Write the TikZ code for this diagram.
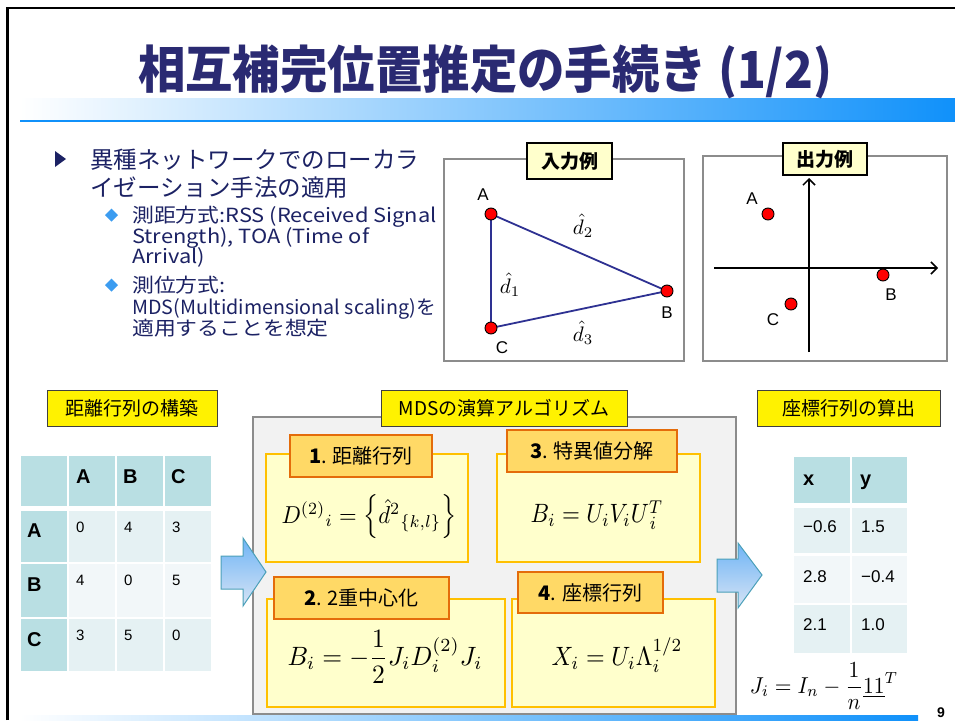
\documentclass[tikz,border=0pt]{standalone}
\usepackage{fontspec}
\setmainfont{Liberation Sans}
\newfontfamily\jp{Noto Sans CJK JP}
\usetikzlibrary{arrows.meta}
\definecolor{navy}{RGB}{42,42,114}
\definecolor{txtnavy}{RGB}{28,34,100}
\definecolor{barblue}{RGB}{16,145,250}
\definecolor{barmid}{RGB}{200,220,250}
\definecolor{diablue}{RGB}{60,156,240}
\definecolor{hdrcell}{RGB}{185,223,227}
\definecolor{bodyA}{RGB}{229,241,243}
\definecolor{bodyB}{RGB}{242,247,249}
\definecolor{graybox}{RGB}{242,242,242}
\definecolor{grayline}{RGB}{140,140,140}
\definecolor{stepfill}{RGB}{255,255,204}
\definecolor{stepline}{RGB}{255,192,0}
\definecolor{labfill}{RGB}{255,217,102}
\definecolor{labline}{RGB}{228,108,10}
\definecolor{trline}{RGB}{46,49,146}
\definecolor{arrtop}{RGB}{110,180,245}
\definecolor{arrbot}{RGB}{215,228,245}
\definecolor{arrline}{RGB}{75,160,185}
\tikzset{
  ylab/.style={draw=black!75, line width=1pt, fill=yellow, inner sep=0pt, font=\jp\fontsize{19}{21}\selectfont},
  exlab/.style={draw=black, line width=1.3pt, fill=stepfill, inner sep=0pt, font=\jp\bfseries\fontsize{19}{21}\selectfont},
  stepbox/.style={draw=stepline, line width=2.5pt, fill=stepfill, inner sep=0pt},
  steplab/.style={draw=labline, line width=2.5pt, fill=labfill, inner sep=0pt, font=\jp\fontsize{20}{22}\selectfont},
  frm/.style={inner sep=0pt, font=\fontsize{10}{12}\selectfont},
  pt/.style={circle, draw=black, line width=0.9pt, fill=red, minimum size=12pt, inner sep=0pt},
  ptlab/.style={inner sep=0pt, font=\fontsize{17}{19}\selectfont},
  dlab/.style={inner sep=0pt, font=\fontsize{10}{12}\selectfont},
  bul/.style={anchor=base west, inner sep=0pt, text=txtnavy, font=\jp\fontsize{23.5}{25}\selectfont},
  sbul/.style={anchor=base west, inner sep=0pt, text=txtnavy, font=\jp\fontsize{19.5}{21}\selectfont},
  thd/.style={anchor=base west, inner sep=0pt, font=\bfseries\fontsize{20}{22}\selectfont},
  tbd/.style={anchor=base west, inner sep=0pt, font=\fontsize{15}{17}\selectfont},
  rbd/.style={anchor=base west, inner sep=0pt, font=\fontsize{17}{19}\selectfont},
  blockarr/.style={draw=arrline, line width=1pt, top color=arrtop, bottom color=arrbot},
  axis/.style={line width=1.5pt, -{Straight Barb[length=6pt,width=12pt,line width=1.5pt]}}
}
\newcommand\wide[1]{\scalebox{1.12}[1]{#1}}
\newcommand\bigmath[2]{\scalebox{#1}[2.65]{$#2$}}
\begin{document}
\begin{tikzpicture}[x=1pt,y=-1pt]
\useasboundingbox (0,0) rectangle (955,720);
\fill[white] (0,0) rectangle (955,720);

% frame
\draw[line width=2.5pt] (7.5,720) -- (7.5,8) -- (955,8);

% title + bars
\shade[left color=white, middle color=barmid, right color=barblue] (20,98) rectangle (955,120);
\draw[barblue, line width=1.2pt] (20,121) -- (955,121);
\node[inner sep=0pt, text=navy] (title) at (485,72)
  {\scalebox{0.93}[1]{\jp\bfseries\fontsize{51}{53}\selectfont 相互補完位置推定の手続き (1/2)}};
\shade[left color=white, right color=barblue] (20,715) rectangle (918,720);
\node[inner sep=0pt, font=\bfseries\fontsize{14}{16}\selectfont] (pagenum) at (941,713) {9};

% bullets
\fill[txtnavy] (55,151) -- (66,159) -- (55,167) -- cycle;
\node[bul] (b1a) at (90,168) {異種ネットワークでのローカラ};
\node[bul] (b1b) at (90,196) {イゼーション手法の適用};
\fill[diablue] (105,215) -- (111.5,208.5) -- (118,215) -- (111.5,221.5) -- cycle;
\node[sbul] (s1a) at (132,222) {\wide{測距方式:RSS (Received Signal}};
\node[sbul] (s1b) at (132,243) {\wide{Strength), TOA (Time of}};
\node[sbul] (s1c) at (132,263) {\wide{Arrival)}};
\fill[diablue] (105,285) -- (111.5,278.5) -- (118,285) -- (111.5,291.5) -- cycle;
\node[sbul] (s2a) at (132,292) {\wide{測位方式:}};
\node[sbul] (s2b) at (132,314) {\scalebox{1.01}[1]{MDS(Multidimensional scaling)を}};
\node[sbul] (s2c) at (132,335) {\wide{適用することを想定}};

% input example
\draw[grayline, line width=1.8pt, fill=white] (444,159) rectangle (684,361);
\node[exlab, minimum width=85pt, minimum height=36pt] (inlab) at (569.5,161) {入力例};
\coordinate (iA) at (491,214);
\coordinate (iB) at (667,291);
\coordinate (iC) at (491,328);
\draw[trline, line width=1.8pt] (iA) -- (iB) -- (iC) -- cycle;
\node[pt] (pA) at (iA) {};
\node[pt] (pB) at (iB) {};
\node[pt] (pC) at (iC) {};
\node[ptlab] (iAl) at (483,195) {A};
\node[ptlab] (iBl) at (667,313) {B};
\node[ptlab] (iCl) at (502,348) {C};
\node[dlab] (d2) at (583,226) {\scalebox{2.1}{$\hat{d}_{2}$}};
\node[dlab] (d1) at (510,285) {\scalebox{2.1}{$\hat{d}_{1}$}};
\node[dlab] (d3) at (583,333) {\scalebox{2.1}{$\hat{d}_{3}$}};

% output example
\draw[grayline, line width=1.8pt, fill=white] (703,156) rectangle (947,361);
\node[exlab, minimum width=84pt, minimum height=32pt] (outlab) at (825,159) {出力例};
\coordinate (vy0) at (809,352);
\coordinate (vy1) at (809,178);
\coordinate (hx0) at (714,268);
\coordinate (hx1) at (938,268);
\draw[axis] (vy0) -- (vy1);
\draw[axis] (hx0) -- (hx1);
\node[pt] (oA) at (768,214) {};
\node[pt] (oB) at (883,275) {};
\node[pt] (oC) at (791,304) {};
\node[ptlab] (oAl) at (752,199) {A};
\node[ptlab] (oBl) at (891,295) {B};
\node[ptlab] (oCl) at (773,320) {C};

% ---------- bottom: distance matrix ----------
\node[ylab, minimum width=170pt, minimum height=36pt] (distlab) at (132,408) {距離行列の構築};
\fill[hdrcell] (21,456) rectangle (67,506);
\fill[hdrcell] (69,456) rectangle (115,506);
\fill[hdrcell] (117,456) rectangle (163,506);
\fill[hdrcell] (165,456) rectangle (211,506);
\fill[hdrcell] (21,511) rectangle (67,562);
\fill[hdrcell] (21,564) rectangle (67,617);
\fill[hdrcell] (21,619) rectangle (67,671);
\fill[bodyA] (69,511) rectangle (115,562);
\fill[bodyA] (117,511) rectangle (163,562);
\fill[bodyA] (165,511) rectangle (211,562);
\fill[bodyB] (69,564) rectangle (115,617);
\fill[bodyB] (117,564) rectangle (163,617);
\fill[bodyB] (165,564) rectangle (211,617);
\fill[bodyA] (69,619) rectangle (115,671);
\fill[bodyA] (117,619) rectangle (163,671);
\fill[bodyA] (165,619) rectangle (211,671);
\node[thd] (hA) at (76,483) {A};
\node[thd] (hB) at (123,483) {B};
\node[thd] (hC) at (171,483) {C};
\node[thd] (rA) at (27,537) {A};
\node[thd] (rB) at (27,591) {B};
\node[thd] (rC) at (27,646) {C};
\node[tbd] (m11) at (76,532) {0};
\node[tbd] (m12) at (124,532) {4};
\node[tbd] (m13) at (172,532) {3};
\node[tbd] (m21) at (76,585) {4};
\node[tbd] (m22) at (124,585) {0};
\node[tbd] (m23) at (172,585) {5};
\node[tbd] (m31) at (76,640) {3};
\node[tbd] (m32) at (124,640) {5};
\node[tbd] (m33) at (172,640) {0};

% ---------- MDS box ----------
\draw[grayline, line width=1.8pt, fill=graybox] (253,417) rectangle (736,714);
\node[ylab, minimum width=246pt, minimum height=36pt] (mdslab) at (504,408) {MDSの演算アルゴリズム};

\node[stepbox, minimum width=202pt, minimum height=108pt] (st1) at (367,508) {};
\node[stepbox, minimum width=203pt, minimum height=108pt] (st3) at (598.5,508) {};
\node[stepbox, minimum width=238pt, minimum height=108pt] (st2) at (386,653) {};
\node[stepbox, minimum width=203pt, minimum height=108pt] (st4) at (613.5,653) {};
\node[steplab, minimum width=142pt, minimum height=42pt] (l1) at (361,456) {\textbf{1}. 距離行列};
\node[steplab, minimum width=170pt, minimum height=42pt] (l3) at (592,451) {\textbf{3}. 特異値分解};
\node[steplab, minimum width=175pt, minimum height=42pt] (l2) at (361.5,598) {\textbf{2}. 2重中心化};
\node[steplab, minimum width=145pt, minimum height=41pt] (l4) at (590.5,592.5) {\textbf{4}. 座標行列};

\node[frm] (f1) at (369,517) {\scalebox{2.27}[2.45]{$D^{(2)}{}_{i}=\left\{\hat{d}^{2}{}_{\{k,l\}}\right\}$}};
\node[frm] (f3) at (597,515) {\bigmath{2.3}{B_{i}=U_{i}V_{i}U_{\,i}^{T}}};
\node[frm] (f2) at (385,657) {\bigmath{2.55}{\displaystyle B_{i}=-\frac{1}{2}J_{i}D_{i}^{(2)}J_{i}}};
\node[frm] (f4) at (617,655) {\bigmath{2.4}{X_{i}=U_{i}\Lambda_{i}^{1/2}}};

% block arrows
\draw[blockarr] (221,556) -- (243,556) -- (243,538) -- (266,572) -- (243,606) -- (243,589) -- (221,589) -- cycle;
\draw[blockarr] (717,559) -- (738,559) -- (738,543) -- (762,575) -- (738,608) -- (738,592) -- (717,592) -- cycle;

% ---------- coordinate matrix ----------
\node[ylab, minimum width=183pt, minimum height=36pt] (coordlab) at (848.5,408) {座標行列の算出};
\fill[hdrcell] (794,457) rectangle (850,503);
\fill[hdrcell] (852,457) rectangle (907,503);
\fill[bodyA] (794,508) rectangle (850,553);
\fill[bodyA] (852,508) rectangle (907,553);
\fill[bodyB] (794,556) rectangle (850,603);
\fill[bodyB] (852,556) rectangle (907,603);
\fill[bodyA] (794,605) rectangle (850,653);
\fill[bodyA] (852,605) rectangle (907,653);
\node[thd] (hx) at (803,485) {x};
\node[thd] (hy) at (860,485) {y};
\node[rbd] (c11) at (803,532) {−0.6};
\node[rbd] (c12) at (861,532) {1.5};
\node[rbd] (c21) at (803,582) {2.8};
\node[rbd] (c22) at (861,582) {−0.4};
\node[rbd] (c31) at (803,630) {2.1};
\node[rbd] (c32) at (861,630) {1.0};
\node[inner sep=0pt, font=\fontsize{10}{12}\selectfont] (jf) at (824,686) {\scalebox{2.15}[2.3]{$\displaystyle J_{i}=I_{n}-\frac{1}{n}\underline{11}^{T}$}};
\end{tikzpicture}
\end{document}
